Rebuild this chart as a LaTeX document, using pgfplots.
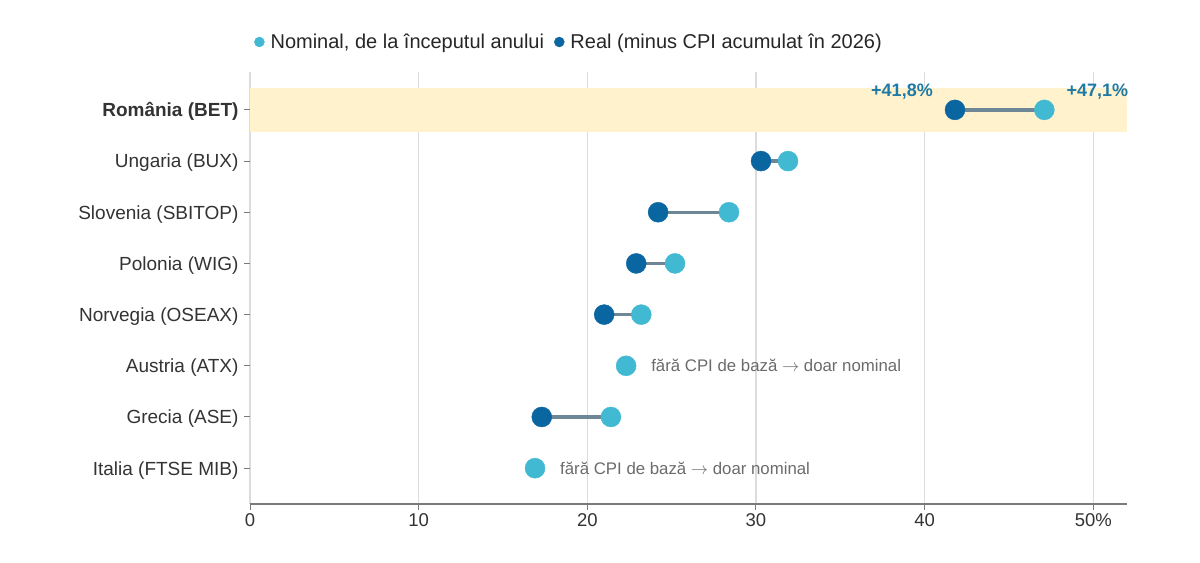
\documentclass[border=0pt]{standalone}
\usepackage{pgfplots}
\usepackage{pgfplotstable}
\pgfplotsset{compat=1.18}
\usepackage{fontspec}
\setmainfont{Liberation Sans}
\definecolor{nomcol}{HTML}{41B9D3}
\definecolor{realcol}{HTML}{0A66A0}
\definecolor{conncol}{HTML}{6E8796}
\definecolor{bandcol}{HTML}{FFF2CC}
\definecolor{gridcol}{HTML}{DCDCDC}
\definecolor{labcol}{HTML}{333333}
\definecolor{pctcol}{HTML}{1E7AA6}
\definecolor{notecol}{HTML}{6B6B6B}
\definecolor{axcol}{HTML}{7A7A7A}

\pgfplotstableread{
y nominal
7 47.1
6 31.9
5 28.4
4 25.2
3 23.2
2 22.3
1 21.4
0 16.9
}\nomtab
\pgfplotstableread{
y real
7 41.8
6 30.3
5 24.2
4 22.9
3 21.0
1 17.3
}\realtab

\begin{document}
\begin{tikzpicture}
\begin{axis}[
  at={(0,0)}, anchor=south west,
  scale only axis, width=877bp, height=432bp,
  set layers,
  xmin=0, xmax=52, ymin=-0.7, ymax=7.74,
  xtick={0,10,20,30,40,50},
  xticklabels={0,10,20,30,40,50\%},
  ytick={0,1,2,3,4,5,6,7},
  yticklabels={Italia (FTSE MIB),Grecia (ASE),Austria (ATX),Norvegia (OSEAX),Polonia (WIG),Slovenia (SBITOP),Ungaria (BUX),\textbf{România (BET)}},
  axis x line*=bottom, axis y line*=left,
  y axis line style={draw=none},
  x axis line style={axcol, line width=1.8bp},
  xmajorgrids, grid style={gridcol, line width=1.3bp},
  tick align=outside,
  major tick length=6bp,
  tick style={axcol, line width=1bp},
  /pgf/number format/assume math mode=true,
  xticklabel style={font=\fontsize{18.5bp}{22bp}\selectfont, text=labcol},
  yticklabel style={font=\fontsize{19bp}{22bp}\selectfont, text=labcol, xshift=-2bp, yshift=-2bp},
  legend columns=2,
  legend style={at={(rel axis cs:0,1)}, anchor=west, xshift=4bp, yshift=30bp,
    draw=none, fill=none, inner sep=0pt,
    font=\fontsize{20bp}{23bp}\selectfont, text=black!85},
]
\fill[bandcol, on layer=axis background] (axis cs:0,6.57) rectangle (axis cs:52,7.43);

\addplot[conncol, line width=3.3bp, forget plot] coordinates {(41.8,7) (47.1,7)};
\addplot[conncol, line width=3.3bp, forget plot] coordinates {(30.3,6) (31.9,6)};
\addplot[conncol, line width=3.3bp, forget plot] coordinates {(24.2,5) (28.4,5)};
\addplot[conncol, line width=3.3bp, forget plot] coordinates {(22.9,4) (25.2,4)};
\addplot[conncol, line width=3.3bp, forget plot] coordinates {(21.0,3) (23.2,3)};
\addplot[conncol, line width=3.3bp, forget plot] coordinates {(17.3,1) (21.4,1)};

\addplot[color=nomcol, only marks, mark=*, mark size=10bp, mark options={draw=nomcol, fill=nomcol},
  legend image code/.code={\fill[nomcol] (0bp,0bp) circle (5bp);}]
  table[x=nominal, y=y] {\nomtab};
\addlegendentry{\hspace*{4bp}Nominal, de la începutul anului\hspace*{8bp}}
\addplot[color=realcol, only marks, mark=*, mark size=10bp, mark options={draw=realcol, fill=realcol},
  legend image code/.code={\fill[realcol] (0bp,0bp) circle (5bp);}]
  table[x=real, y=y] {\realtab};
\addlegendentry{\hspace*{4bp}Real (minus CPI acumulat în 2026)}

\node[anchor=base east, inner sep=0pt, xshift=-22bp, yshift=13bp, text=pctcol,
  font=\fontsize{18bp}{20bp}\selectfont\bfseries] at (axis cs:41.8,7) {+41,8\%};
\node[anchor=base west, inner sep=0pt, xshift=22bp, yshift=13bp, text=pctcol,
  font=\fontsize{18bp}{20bp}\selectfont\bfseries] at (axis cs:47.1,7) {+47,1\%};

\node[anchor=west, inner sep=0pt, xshift=25bp, text=notecol,
  font=\fontsize{16.8bp}{20bp}\selectfont] at (axis cs:22.3,2) {fără CPI de bază \(\rightarrow\) doar nominal};
\node[anchor=west, inner sep=0pt, xshift=25bp, text=notecol,
  font=\fontsize{16.8bp}{20bp}\selectfont] at (axis cs:16.9,0) {fără CPI de bază \(\rightarrow\) doar nominal};
\end{axis}
\path (-250bp,-59bp) rectangle (950bp,504bp);
\end{tikzpicture}
\end{document}
